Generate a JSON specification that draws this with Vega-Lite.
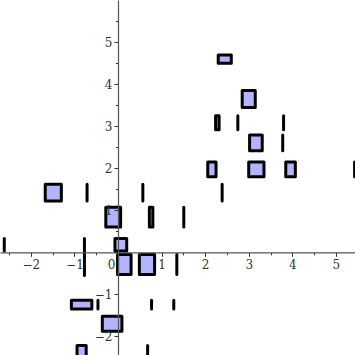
{
  "$schema": "https://vega.github.io/schema/vega-lite/v6.json",
  "width": 355,
  "height": 355,
  "padding": 0,
  "autosize": {"type": "none"},
  "background": "white",
  "config": {"view": {"stroke": null}},
  "data": {
    "values": [
      {"x1": 2.30, "x2": 2.60, "y1": 4.50, "y2": 4.70},
      {"x1": 2.85, "x2": 3.15, "y1": 3.45, "y2": 3.85},
      {"x1": 2.24, "x2": 2.32, "y1": 2.92, "y2": 3.25},
      {"x1": 2.75, "x2": 2.75, "y1": 2.92, "y2": 3.25},
      {"x1": 3.80, "x2": 3.80, "y1": 2.92, "y2": 3.25},
      {"x1": 3.02, "x2": 3.31, "y1": 2.42, "y2": 2.79},
      {"x1": 3.78, "x2": 3.78, "y1": 2.42, "y2": 2.79},
      {"x1": 2.06, "x2": 2.25, "y1": 1.80, "y2": 2.15},
      {"x1": 3.00, "x2": 3.35, "y1": 1.80, "y2": 2.15},
      {"x1": 3.85, "x2": 4.07, "y1": 1.80, "y2": 2.15},
      {"x1": 5.43, "x2": 5.43, "y1": 1.80, "y2": 2.15},
      {"x1": 2.39, "x2": 2.39, "y1": 1.22, "y2": 1.62},
      {"x1": -1.67, "x2": -1.30, "y1": 1.22, "y2": 1.62},
      {"x1": -0.71, "x2": -0.71, "y1": 1.22, "y2": 1.62},
      {"x1": 0.57, "x2": 0.57, "y1": 1.22, "y2": 1.62},
      {"x1": -0.28, "x2": 0.06, "y1": 0.60, "y2": 1.07},
      {"x1": 0.72, "x2": 0.80, "y1": 0.60, "y2": 1.07},
      {"x1": 1.51, "x2": 1.51, "y1": 0.60, "y2": 1.07},
      {"x1": -2.61, "x2": -2.61, "y1": 0.03, "y2": 0.33},
      {"x1": -0.07, "x2": 0.20, "y1": 0.03, "y2": 0.33},
      {"x1": -0.77, "x2": -0.77, "y1": -0.55, "y2": 0.33},
      {"x1": -0.01, "x2": 0.30, "y1": -0.53, "y2": -0.05},
      {"x1": 0.49, "x2": 0.84, "y1": -0.53, "y2": -0.05},
      {"x1": 1.35, "x2": 1.35, "y1": -0.53, "y2": -0.05},
      {"x1": -1.07, "x2": -0.60, "y1": -1.35, "y2": -1.14},
      {"x1": -0.46, "x2": -0.46, "y1": -1.35, "y2": -1.14},
      {"x1": 0.77, "x2": 0.77, "y1": -1.35, "y2": -1.14},
      {"x1": 1.28, "x2": 1.28, "y1": -1.35, "y2": -1.14},
      {"x1": -0.36, "x2": 0.09, "y1": -1.88, "y2": -1.52},
      {"x1": -0.94, "x2": -0.73, "y1": -2.70, "y2": -2.22},
      {"x1": 0.68, "x2": 0.68, "y1": -2.70, "y2": -2.22}
    ]
  },
  "mark": {
    "type": "rect",
    "fill": "#b3b3ff",
    "stroke": "black",
    "strokeWidth": 3,
    "strokeJoin": "round",
    "strokeCap": "round",
    "clip": true
  },
  "encoding": {
    "x": {
      "field": "x1",
      "type": "quantitative",
      "scale": {"domain": [-2.708, 5.439], "nice": false, "zero": false},
      "axis": {
        "title": null,
        "grid": false,
        "offset": -102.7,
        "zindex": 1,
        "values": [-2.5, -2, -1.5, -1, -0.5, 0, 0.5, 1, 1.5, 2, 2.5, 3, 3.5, 4, 4.5, 5],
        "labelExpr": "datum.value % 1 === 0 ? format(datum.value, 'd') : ''",
        "labelFont": "DejaVu Serif",
        "labelFontSize": 12,
        "labelColor": "#333333",
        "labelPadding": 3,
        "labelFlush": false,
        "labelOverlap": false,
        "labelAlign": {"condition": {"test": "datum.value === 0", "value": "right"}, "value": "center"},
        "labelOffset": {"condition": {"test": "datum.value === 0", "value": -3}, "value": 0},
        "domainColor": "#555555",
        "domainWidth": 1.2,
        "tickColor": "#333333",
        "tickWidth": 1,
        "tickSize": {"condition": {"test": "datum.value % 1 === 0", "value": 4}, "value": 2.5}
      }
    },
    "x2": {"field": "x2"},
    "y": {
      "field": "y1",
      "type": "quantitative",
      "scale": {"domain": [-2.445, 6.007], "nice": false, "zero": false},
      "axis": {
        "title": null,
        "grid": false,
        "offset": -118,
        "zindex": 1,
        "values": [-2, -1.5, -1, -0.5, 0, 0.5, 1, 1.5, 2, 2.5, 3, 3.5, 4, 4.5, 5, 5.5],
        "labelExpr": "datum.value % 1 === 0 && datum.value !== 0 ? format(datum.value, 'd') : ''",
        "labelFont": "DejaVu Serif",
        "labelFontSize": 12,
        "labelColor": "#333333",
        "labelPadding": 2,
        "labelFlush": false,
        "labelOverlap": false,
        "domainColor": "#555555",
        "domainWidth": 1.2,
        "tickColor": "#333333",
        "tickWidth": 1,
        "tickSize": {"condition": {"test": "datum.value % 1 === 0", "value": 4}, "value": 2.5}
      }
    },
    "y2": {"field": "y2"}
  }
}
